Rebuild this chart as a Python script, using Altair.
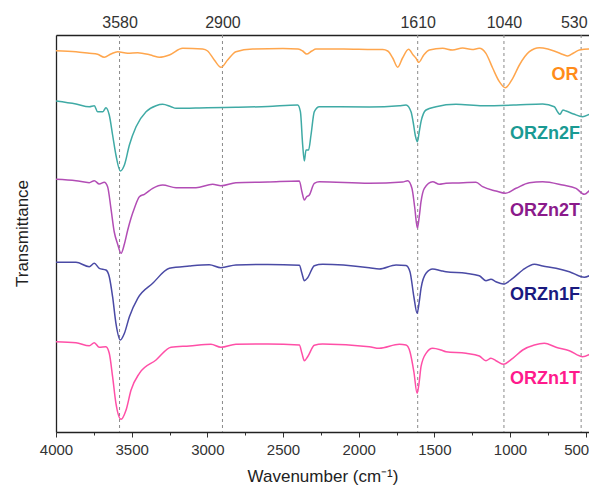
import altair as alt
import pandas as pd

# Wavenumber (cm-1) and transmittance (arbitrary offset units)
or_w = [4000,3868,3780,3725,3681,3637,3593,3526,3460,3394,3361,3317,3251,3163,3031,2998,2954,2910,2866,2811,2700,2500,2400,2370,2344,2310,2282,2100,1900,1841,1808,1775,1742,1710,1670,1640,1621,1603,1570,1533,1445,1380,1313,1250,1203,1159,1114,1070,1031,982,938,872,806,750,696,650,619,580,542,480,432,425]
or_t = [381.3,380.3,378.7,377.7,374.7,378,380.3,378.7,379.3,377.7,376.3,374.7,377,383.7,383,381,372,364.7,372,380.3,383,383.5,383,381,378,381,383,383,382.5,382.5,381,374,364.7,374,382.7,377,373.7,369.7,377,382,383.7,382,384,382.5,383.7,378.7,363.7,350.3,344.3,353.7,367,380.3,384.3,383,380.3,377.5,376,379,382,383,383,383]

zn2f_w = [4000,3868,3780,3747,3725,3690,3670,3648,3626,3604,3575,3548,3515,3471,3405,3339,3295,3240,3207,3000,2811,2600,2403,2385,2370,2359,2348,2331,2315,2293,2260,1930,1731,1687,1654,1640,1625,1612,1600,1588,1555,1489,1357,1181,960,784,707,685,670,650,630,580,520,470,432,425]
zn2f_t = [331,328,325.3,326.3,320.3,320.3,324.3,317,297,277,261,267,287,305.3,320.3,326.3,327.7,325.3,323.7,324.3,324.7,325.5,327,320.3,287,271,282,282,297,320.3,325.3,325,326.3,327,320.3,310,296,290.3,300,310.3,322,325.3,327.7,326.3,327,328,325.3,320,317.7,322,321,318,315.3,318,319.7,320]

zn2t_w = [4000,3868,3780,3747,3714,3681,3659,3637,3615,3593,3570,3548,3526,3504,3482,3449,3416,3361,3295,3207,3075,2965,2910,2811,2600,2392,2375,2359,2344,2326,2293,2260,1930,1709,1676,1648,1630,1612,1600,1588,1566,1511,1467,1423,1357,1225,1181,1093,1031,960,872,784,652,564,509,470,432,425]
zn2t_t = [252.7,251.3,249.3,251.3,248,249.7,245.3,223.7,200,188,178.7,188,202,214,223.7,235.3,237.7,243.7,247,244.3,244.3,247.7,246.3,249.3,250,251,240.3,232,235.3,237,248.7,250.3,248.7,250,251.3,243.7,225,204,215,230.3,243.7,250.3,247.7,248.7,249,249.7,245.3,241,238.7,243.7,249.3,250.3,247,243.7,237.7,242,245.3,246]

zn1f_w = [4000,3868,3780,3747,3714,3670,3648,3626,3604,3575,3548,3515,3460,3361,3251,3119,2987,2910,2811,2600,2392,2375,2359,2337,2293,2238,1930,1864,1753,1687,1661,1635,1614,1600,1588,1555,1511,1456,1423,1291,1203,1159,1126,1093,1044,982,916,839,784,696,608,509,432,425]
zn1f_t = [169.7,169.7,165.3,168.7,163.7,162,155.3,135.3,108.7,92,98.7,115.3,133.7,148.7,163.7,166,167.3,164.3,167,167.5,166.7,158.7,151.3,154.3,166.3,167.7,164.3,163,167,166.5,160.3,135,118.7,130,143.7,158.7,163,161.3,160.3,158.7,156.3,151.3,152.7,150.3,148,153.7,162,167.7,166,163.7,160.3,154.7,160.3,161]

zn1t_w = [4000,3868,3780,3747,3714,3670,3648,3626,3604,3570,3537,3504,3449,3339,3240,3119,2976,2910,2811,2600,2392,2375,2359,2337,2293,2238,1930,1864,1731,1687,1661,1635,1614,1600,1588,1555,1511,1456,1423,1291,1203,1159,1126,1093,1044,982,916,839,773,696,608,520,470,432,425]
zn1t_t = [90.3,89.3,86.3,89.3,84.7,85.3,78.7,55.3,28.7,12.7,22,42,58.7,72,84.7,86,87.7,84.7,87.7,88,87,78.7,71.3,75.3,86.7,88,85.3,83.7,87.7,87,80.3,60,38.7,50,65.3,78.7,83.7,82,80.3,78.7,76,71.3,73.7,71.3,67.7,73.7,82,87,88.7,84.7,81.3,75.3,78,81.3,82]

series_names = ["OR", "ORZn2F", "ORZn2T", "ORZn1F", "ORZn1T"]
line_colors = ["#FFA64D", "#3FAAA5", "#B24DB5", "#4A4AA5", "#FF4FA7"]
label_colors = ["#FF8C1A", "#1A9A93", "#8B1A8B", "#1A1A80", "#FF1A8C"]

# label anchor positions (wavenumber, transmittance units)
label_w = [636, 769, 769, 769, 769]
label_t = [357, 298, 221, 137, 53]

peak_marks = [3580, 2900, 1610, 1040, 530]
bottom_ticks = [4000, 3750, 3500, 3250, 3000, 2750, 2500, 2250, 2000, 1750, 1500, 1250, 1000, 750, 500]

rows = []
for name, ws, ts in zip(series_names, [or_w, zn2f_w, zn2t_w, zn1f_w, zn1t_w],
                        [or_t, zn2f_t, zn2t_t, zn1f_t, zn1t_t]):
    for w, t in zip(ws, ts):
        rows.append({"series": name, "w": w, "t": t})
df = pd.DataFrame(rows)
lab = pd.DataFrame({"series": series_names, "w": label_w, "t": label_t, "c": label_colors})
peaks = pd.DataFrame({"w": peak_marks})

FONT = "Liberation Sans"
xscale = alt.Scale(domain=[4000, 478], nice=False, zero=False)
yscale = alt.Scale(domain=[0, 397], nice=False, zero=False)

yaxis = alt.Axis(ticks=False, labels=False, grid=False, domainColor="#222", domainWidth=1.3,
                 title="Transmittance", titleFontSize=17, titleFontWeight="normal",
                 titleColor="#222", titleFont=FONT, titleAngle=270, titleX=-25, titleY=198,
                 titleAlign="center", titleBaseline="bottom")

lines = alt.Chart(df).mark_line(strokeWidth=1.5, interpolate="monotone", clip=True).encode(
    x=alt.X("w:Q", scale=xscale,
            axis=alt.Axis(orient="bottom", values=bottom_ticks, format="d", grid=False,
                          labelFlush=False, labelOverlap=False, labelBound=False,
                          labelExpr="datum.value % 500 === 0 ? datum.label : ''",
                          labelAlign={"condition": {"test": "datum.value === 500", "value": "right"}, "value": "center"},
                          labelOffset={"condition": {"test": "datum.value === 500", "value": 3}, "value": 0},
                          tickSize={"condition": {"test": "datum.value % 500 === 0", "value": 5}, "value": 3},
                          tickColor="#333", domainColor="#222", domainWidth=1.3,
                          labelFontSize=15, labelColor="#333", labelPadding=5, labelFont=FONT,
                          title="Wavenumber (cm⁻¹)", titleFontSize=17, titleFontWeight="normal",
                          titleColor="#222", titleFont=FONT, titlePadding=11)),
    y=alt.Y("t:Q", scale=yscale, axis=yaxis),
    color=alt.Color("series:N", scale=alt.Scale(domain=series_names, range=line_colors), legend=None),
    detail="series:N",
)

rules = alt.Chart(peaks).mark_rule(strokeDash=[3, 3], color="#8a8a8a", strokeWidth=1).encode(
    x=alt.X("w:Q", scale=xscale,
            axis=alt.Axis(orient="top", values=peak_marks, format="d", ticks=False, grid=False,
                          labelFlush=False, labelOverlap=False, labelBound=False,
                          labelAlign={"condition": {"test": "datum.value === 530", "value": "right"}, "value": "center"},
                          labelOffset={"condition": {"test": "datum.value === 530", "value": 6}, "value": 0},
                          domainColor="#222", domainWidth=1.3, labelFontSize=16, labelColor="#333",
                          labelPadding=5, labelFont=FONT, title=None)),
)

labels = alt.Chart(lab).mark_text(fontSize=18, fontWeight="bold", font=FONT, align="center",
                                  baseline="middle").encode(
    x=alt.X("w:Q", scale=xscale, axis=None),
    y=alt.Y("t:Q", scale=yscale, axis=yaxis),
    text="series:N",
    color=alt.Color("c:N", scale=None, legend=None),
)

chart = alt.layer(rules, lines, labels).resolve_axis(x="independent").resolve_scale(
    color="independent"
).properties(
    width=533, height=397, autosize=alt.AutoSizeParams(type="none"),
    padding={"left": 48, "top": 27, "right": 0, "bottom": 55},
).configure_view(stroke=None).configure(background="white")

chart.save("out.html", embed_options={"renderer": "svg", "actions": False})
